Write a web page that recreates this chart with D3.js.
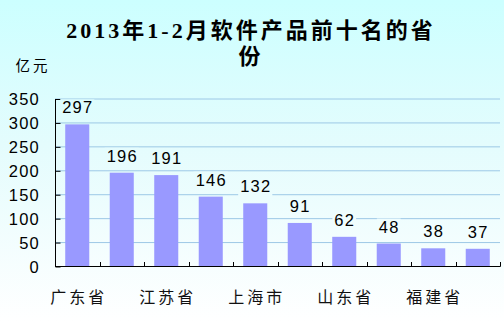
<!DOCTYPE html>
<html><head><meta charset="utf-8">
<script src="https://cdn.jsdelivr.net/npm/d3@7"></script>
<style>html,body{margin:0;padding:0;background:#fff;}svg{display:block;}</style>
</head><body>
<script>
const categories = ["广东省","辽宁省","江苏省","北京市","上海市","浙江省","山东省","四川省","福建省","天津市"];
const values = [297,196,191,146,132,91,62,48,38,37];
const yTicks = [0,50,100,150,200,250,300,350];
const shownLabels = ["广东省","江苏省","上海市","山东省","福建省"];
const titleLines = ["2013年1-2月软件产品前十名的省","份"];
const unitLabel = "亿元";

const W = 504, H = 323;
const svg = d3.select("body").append("svg").attr("width", W).attr("height", H);
const defs = svg.append("defs");
const grad = defs.append("linearGradient").attr("id","bg")
  .attr("gradientUnits","userSpaceOnUse").attr("x1",0).attr("y1",0).attr("x2",0).attr("y2",H);
grad.append("stop").attr("offset","0").attr("stop-color","#ccffff");
grad.append("stop").attr("offset","0.45").attr("stop-color","#e4fcfd");
grad.append("stop").attr("offset","1").attr("stop-color","#ffffff");
svg.append("rect").attr("width",W).attr("height",H).attr("fill","url(#bg)");

const x = d3.scaleBand().domain(categories).range([55,500]).paddingInner(0.46).paddingOuter(0.23);
const y = d3.scaleLinear().domain([0,350]).range([266.5,99]);
const step = x.step();

// gridlines
svg.append("g").selectAll("line").data(yTicks.filter(d=>d>0)).join("line")
  .attr("x1",55).attr("x2",500).attr("y1",d=>y(d)).attr("y2",d=>y(d))
  .attr("stroke","#9cc8e6").attr("stroke-width",1);

// bars
svg.append("g").selectAll("rect").data(values).join("rect")
  .attr("x",(d,i)=>x(categories[i])).attr("width",x.bandwidth())
  .attr("y",d=>y(d)).attr("height",d=>y(0)-y(d)).attr("fill","#9999ff");

// y axis
const yAxis = d3.axisRight(y).tickValues(yTicks).tickSize(5).tickFormat("");
const ya = svg.append("g").attr("transform","translate(55.5,0)").call(yAxis);
ya.selectAll("path,line").attr("stroke","#000");
ya.select(".domain").attr("d","M0,"+y(350)+"V"+y(0));
svg.append("g").selectAll("text").data(yTicks).join("text")
  .attr("x",40).attr("y",d=>y(d)+6)
  .attr("text-anchor","end")
  .attr("font-family","Liberation Sans, Arial, sans-serif").attr("font-size",16.5)
  .attr("letter-spacing",1.2)
  .text(d=>d);

// x axis
svg.append("line").attr("x1",55).attr("x2",500.5).attr("y1",266.5).attr("y2",266.5).attr("stroke","#000");
const boundary = d => Math.round(x(d) + x.bandwidth() + (step - x.bandwidth())/2) + 0.5;
svg.append("g").selectAll("line").data(categories).join("line")
  .attr("x1",boundary).attr("x2",boundary)
  .attr("y1",266.5).attr("y2",262).attr("stroke","#000");

// x labels
svg.append("g").selectAll("text").data(categories.filter(c=>shownLabels.includes(c))).join("text")
  .attr("x",d=>x(d)+x.bandwidth()/2+1.5).attr("y",303)
  .attr("text-anchor","middle")
  .attr("font-family","Noto Sans CJK SC, sans-serif").attr("font-size",16)
  .attr("letter-spacing",3)
  .attr("fill","#111")
  .text(d=>d);

// data labels with background
const lg = svg.append("g");
values.forEach((v,i)=>{
  const cx = x(categories[i]) + x.bandwidth()/2;
  const t = lg.append("text").attr("x",cx+0.5).attr("y",y(v)-11)
    .attr("text-anchor","middle")
    .attr("font-family","Liberation Sans, Arial, sans-serif").attr("font-size",16.5)
    .attr("letter-spacing",1.2)
    .text(v);
  const bb = t.node().getBBox();
  lg.insert("rect", () => t.node()).attr("x",bb.x-2).attr("y",bb.y+1).attr("width",bb.width+3).attr("height",bb.height)
    .attr("fill","url(#bg)");
});

// title
svg.append("g").selectAll("text").data(titleLines).join("text")
  .attr("x",251).attr("y",(d,i)=>38+i*26)
  .attr("text-anchor","middle")
  .attr("font-family","Liberation Serif, Noto Sans CJK SC, serif").attr("font-weight","bold")
  .attr("font-size",22).attr("letter-spacing",3)
  .text(d=>d);

svg.append("text").attr("x",33).attr("y",71).attr("text-anchor","middle")
  .attr("font-family","Noto Sans CJK SC, sans-serif").attr("font-size",14.5)
  .attr("letter-spacing",3)
  .text(unitLabel);
</script>
</body></html>
